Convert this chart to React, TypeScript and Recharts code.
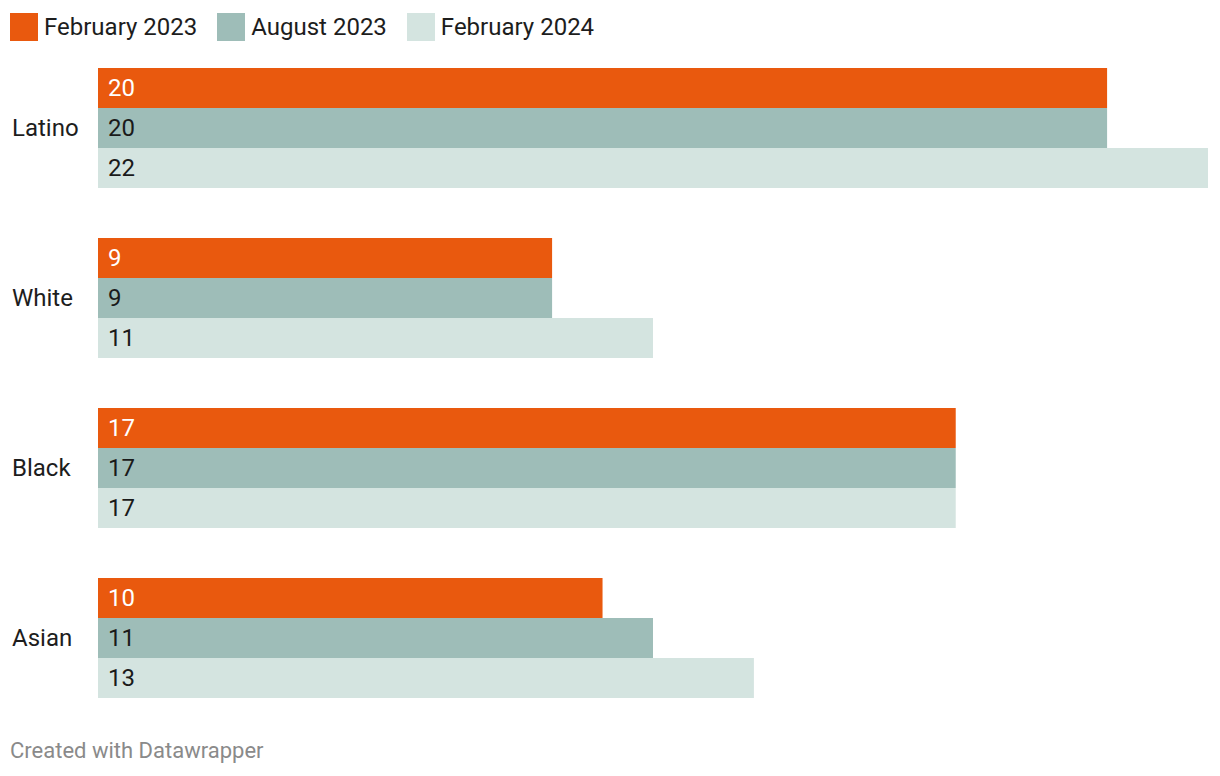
import { BarChart, Bar, XAxis, YAxis, LabelList } from 'recharts'

const GROUPS = ['Latino', 'White', 'Black', 'Asian']
const FEB_2023 = [20, 9, 17, 10]
const AUG_2023 = [20, 9, 17, 11]
const FEB_2024 = [22, 11, 17, 13]

const SERIES = [
  { key: 'feb23', name: 'February 2023', color: '#e9590e', text: '#ffffff', values: FEB_2023 },
  { key: 'aug23', name: 'August 2023', color: '#9ebdb8', text: '#1a1a1a', values: AUG_2023 },
  { key: 'feb24', name: 'February 2024', color: '#d4e4e0', text: '#1a1a1a', values: FEB_2024 },
]

const data = GROUPS.map((name, i) => {
  const row: Record<string, string | number> = { name }
  SERIES.forEach(s => { row[s.key] = s.values[i] })
  return row
})

const FONT = 'Roboto, "Noto Sans", sans-serif'

const CategoryTick = (props: any) => {
  const { y, payload } = props
  return (
    <text x={12} y={y} dy={8} textAnchor="start" fontSize={24} fill="#1d1d1d" fontFamily={FONT}>
      {payload.value}
    </text>
  )
}

export default function App() {
  return (
    <div style={{ position: 'absolute', left: 0, top: 0, width: 1220, height: 776, background: '#fff', fontFamily: FONT }}>
      <div style={{ position: 'absolute', left: 10, top: 13, display: 'flex', alignItems: 'center' }}>
        {SERIES.map(s => (
          <div key={s.key} style={{ display: 'flex', alignItems: 'center', marginRight: 20 }}>
            <div style={{ width: 28, height: 28, background: s.color, marginRight: 6 }} />
            <span style={{ fontSize: 24, color: '#1d1d1d', lineHeight: '28px' }}>{s.name}</span>
          </div>
        ))}
      </div>
      <div style={{ position: 'absolute', left: 0, top: 0 }}>
        <BarChart
          layout="vertical"
          width={1220}
          height={723}
          data={data}
          margin={{ top: 43, right: 12, bottom: 0, left: 0 }}
          barGap={0}
          barSize={40}
        >
          <XAxis type="number" domain={[0, 22]} hide />
          <YAxis type="category" dataKey="name" width={98} axisLine={false} tickLine={false} tick={<CategoryTick />} />
          {SERIES.map(s => (
            <Bar key={s.key} dataKey={s.key} name={s.name} fill={s.color} isAnimationActive={false}>
              <LabelList
                dataKey={s.key}
                position="insideLeft"
                offset={10}
                dy={-1}
                fill={s.text}
                fontSize={24}
                fontFamily={FONT}
              />
            </Bar>
          ))}
        </BarChart>
      </div>
      <div style={{ position: 'absolute', left: 10, top: 738, fontSize: 22, color: '#8a8a8a' }}>
        Created with Datawrapper
      </div>
    </div>
  )
}
